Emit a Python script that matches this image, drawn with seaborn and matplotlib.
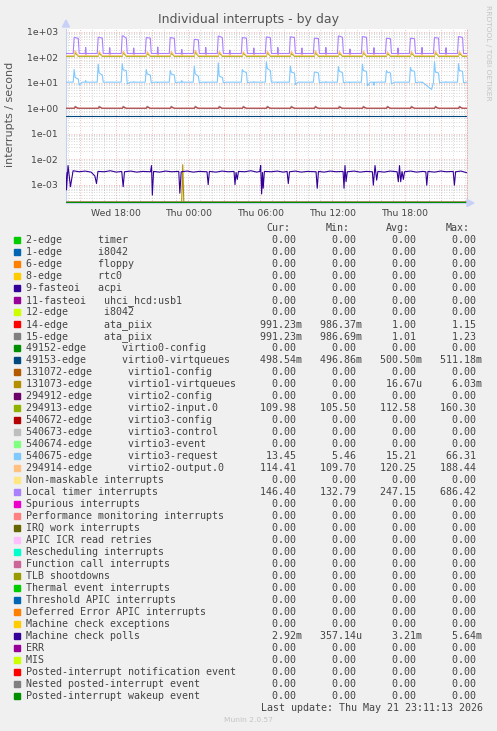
import numpy as np
import matplotlib
matplotlib.use("Agg")
import matplotlib.pyplot as plt
import seaborn as sns
from matplotlib.patches import Rectangle, Polygon
from matplotlib.ticker import LogLocator, FuncFormatter, MultipleLocator, NullFormatter

# time axis: hours since Wed 00:00
XMIN, XMAX = 13.81, 47.2
YMIN, YMAX = 1.9e-4, 1280

tick_hours = [18, 24, 30, 36, 42]
tick_labels = ["Wed 18:00", "Thu 00:00", "Thu 06:00", "Thu 12:00", "Thu 18:00"]

# start of each two-hourly burst (read from the purple pulses)
pulse_start = [14.45, 16.45, 18.45, 20.45, 22.45, 24.45, 26.45, 28.45, 30.45,
               32.45, 34.45, 36.45, 38.45, 40.45, 42.45, 44.45, 46.45]

# Local timer interrupts
timer_base = 140
timer_peak = [590, 600, 686, 585, 585, 500, 670, 585, 620, 625, 555, 675, 640, 555, 555, 585, 640]
timer_tail = [550, 560, 560, 560, 550, 480, 580, 560, 580, 590, 540, 600, 600, 530, 530, 560, 590]
timer_spike = [240, 235, 230, 250, 200, 240, 190, 230, 240, 230, 240, 210, 235, 230, 240, 235, 220]

# 540675-edge virtio3-request
blue_base = 10.5
blue_peak = [33, 53, 56, 33, 30, 45, 60, 33, 66, 45, 26, 43, 53, 30, 40, 66, 56]
blue_top = [16, 24, 32, 22, 22, 22, 18, 28, 36, 26, 26, 28, 30, 26, 30, 26, 30]
blue_tail = [14, 20, 30, 20, 20, 18, 16, 25, 30, 24, 24, 25, 28, 24, 28, 24, 28]
blue_after = [8, 10.5, 9, 10, 10, 10, 10, 10, 10.5, 8.5, 10, 10, 7.5, 9, 10, 10, 10]
blue_mid = [12, 10.5, 11, 10, 12, 10, 10.5, 11, 10, 10.5, 11, 10, 8, 10.5, 10, 11, 10]
blue_dip_hours = [44.25]
blue_dip_values = [5.46]

# 294914-edge virtio2-output.0 and 294913-edge virtio2-input.0
orange_base = 115
orange_peak = [180, 170, 175, 165, 170, 188, 170, 165, 175, 170, 180, 170, 175, 165, 170, 175, 170]
orange_spike = 150
green_base = 108
green_peak = [150, 145, 150, 140, 145, 160, 150, 145, 150, 140, 150, 145, 150, 140, 145, 150, 145]
green_spike = 130

# 14-edge / 15-edge ata_piix
red_base, red_peak = 0.99, 1.12
grey_base, grey_peak = 0.99, 1.2

# 49153-edge virtio0-virtqueues
vq0_value = 0.4985

# 131073-edge virtio1-virtqueues (single burst)
vq1_hours = [XMIN, 23.44, 23.53, 23.62, XMAX]
vq1_values = [0, 0, 6.03e-3, 0, 0]

# Machine check polls
mc_hours = [13.81, 13.85, 13.98, 14.18, 14.40, 14.9, 15.4, 15.9, 16.21, 16.35, 16.47, 17.0, 17.5,
            18.0, 18.45, 18.57, 18.68, 19.2, 19.7, 20.2, 20.85, 20.93, 21.0, 21.1, 21.6, 22.1,
            22.6, 23.2, 23.29, 23.4, 23.9, 24.4, 24.9, 25.55, 25.65, 25.75, 26.3, 26.8, 27.3,
            27.8, 27.88, 27.97, 28.07, 28.17, 28.7, 29.2, 29.7, 29.95, 30.02, 30.1, 30.17, 30.23,
            30.33, 30.9, 31.4, 31.9, 32.22, 32.32, 32.42, 32.9, 33.4, 33.9, 34.63, 34.73, 34.83,
            35.3, 35.8, 36.3, 36.88, 36.96, 37.04, 37.13, 37.23, 37.8, 38.3, 38.8, 39.32, 39.4,
            39.54, 39.68, 39.78, 40.3, 40.8, 41.38, 41.48, 41.58, 41.68, 41.79, 41.9, 42.0, 42.5,
            43.0, 43.5, 43.77, 43.85, 43.95, 44.5, 45.0, 45.5, 46.05, 46.15, 46.25, 46.7, 47.2]
mc_values = [3.0e-3, 6.2e-4, 5.6e-3, 8.3e-4, 3.5e-3, 3.2e-3, 3.4e-3, 3.1e-3, 2.2e-3, 1.1e-3, 3.3e-3, 3.2e-3, 3.5e-3,
             3.1e-3, 3.3e-3, 8.3e-4, 3.2e-3, 3.4e-3, 3.1e-3, 3.3e-3, 3.2e-3, 5.6e-3, 3.9e-4, 3.3e-3, 3.1e-3, 3.4e-3,
             3.2e-3, 3.3e-3, 4.6e-4, 3.2e-3, 3.4e-3, 3.1e-3, 3.3e-3, 3.2e-3, 1.0e-3, 3.3e-3, 3.1e-3, 3.4e-3, 3.2e-3,
             3.3e-3, 1.0e-3, 3.0e-3, 1.6e-3, 3.3e-3, 3.2e-3, 3.5e-3, 3.1e-3, 3.3e-3, 5.6e-3, 4.3e-4, 3.0e-3, 7.2e-4,
             3.3e-3, 3.2e-3, 3.4e-3, 3.1e-3, 3.3e-3, 1.1e-3, 3.2e-3, 3.4e-3, 3.1e-3, 3.3e-3, 3.2e-3, 7.2e-4, 3.3e-3,
             3.1e-3, 3.4e-3, 3.2e-3, 3.3e-3, 7.2e-4, 5.6e-3, 1.3e-3, 3.2e-3, 3.4e-3, 3.1e-3, 3.3e-3, 3.2e-3, 9.5e-4,
             5.6e-3, 1.5e-3, 3.3e-3, 3.1e-3, 3.4e-3, 3.2e-3, 1.3e-3, 5.6e-3, 1.3e-3, 3.3e-3, 1.6e-3, 3.2e-3, 3.4e-3,
             3.1e-3, 3.3e-3, 3.2e-3, 9.5e-4, 3.3e-3, 3.1e-3, 3.4e-3, 3.2e-3, 3.3e-3, 9.5e-4, 3.2e-3, 3.4e-3, 2.92e-3]

# legend
names = ["2-edge      timer", "1-edge      i8042", "6-edge      floppy", "8-edge      rtc0",
         "9-fasteoi   acpi", "11-fasteoi   uhci_hcd:usb1", "12-edge      i8042",
         "14-edge      ata_piix", "15-edge      ata_piix", "49152-edge      virtio0-config",
         "49153-edge      virtio0-virtqueues", "131072-edge      virtio1-config",
         "131073-edge      virtio1-virtqueues", "294912-edge      virtio2-config",
         "294913-edge      virtio2-input.0", "540672-edge      virtio3-config",
         "540673-edge      virtio3-control", "540674-edge      virtio3-event",
         "540675-edge      virtio3-request", "294914-edge      virtio2-output.0",
         "Non-maskable interrupts", "Local timer interrupts", "Spurious interrupts",
         "Performance monitoring interrupts", "IRQ work interrupts", "APIC ICR read retries",
         "Rescheduling interrupts", "Function call interrupts", "TLB shootdowns",
         "Thermal event interrupts", "Threshold APIC interrupts", "Deferred Error APIC interrupts",
         "Machine check exceptions", "Machine check polls", "ERR", "MIS",
         "Posted-interrupt notification event", "Nested posted-interrupt event",
         "Posted-interrupt wakeup event"]
colors = ["#00CC00", "#0066B3", "#FF8000", "#FFCC00", "#330099", "#990099", "#CCFF00", "#FF0000",
          "#808080", "#008F00", "#00487D", "#B35A00", "#B38F00", "#6B006B", "#8FB300", "#B30000",
          "#BEBEBE", "#80FF80", "#80C9FF", "#FFC080", "#FFE680", "#AA80FF", "#EE00CC", "#FF8080",
          "#666600", "#FFBFFF", "#00FFCC", "#CC6699", "#999900", "#00CC00", "#0066B3", "#FF8000",
          "#FFCC00", "#330099", "#990099", "#CCFF00", "#FF0000", "#808080", "#008F00"]
headers = ["Cur:", "Min:", "Avg:", "Max:"]
cur = [0] * 39
mins = [0] * 39
avg = [0] * 39
mx = [0] * 39
for i, c, mn, a, m in [(7, 0.99123, 0.98637, 1.00, 1.15), (8, 0.99123, 0.98669, 1.01, 1.23),
                       (10, 0.49854, 0.49686, 0.5005, 0.51118), (12, 0, 0, 16.67e-6, 6.03e-3),
                       (14, 109.98, 105.50, 112.58, 160.30), (18, 13.45, 5.46, 15.21, 66.31),
                       (19, 114.41, 109.70, 120.25, 188.44), (21, 146.40, 132.79, 247.15, 686.42),
                       (33, 2.92e-3, 357.14e-6, 3.21e-3, 5.64e-3)]:
    cur[i], mins[i], avg[i], mx[i] = c, mn, a, m

TEXT = "#444444"


def as_list(x):
    return np.broadcast_to(np.asarray(x, dtype=float), (len(pulse_start),))


def burst_line(base, peak, top=None, tail=None, after=None, mid=None):
    '''Polyline for a series that follows the two-hourly bursts'''
    top = as_list(base if top is None else top)
    tail = as_list(base if tail is None else tail)
    after = as_list(base if after is None else after)
    mid = as_list(base if mid is None else mid)
    peak = as_list(peak)
    t, v = [XMIN], [base]
    for i, t0 in enumerate(pulse_start):
        t += [t0 - 0.04, t0 + 0.04, t0 + 0.12, t0 + 0.38, t0 + 0.46, t0 + 0.7,
              t0 + 0.96, t0 + 1.0, t0 + 1.04]
        v += [base, peak[i], top[i], tail[i], after[i], base, base, mid[i], base]
    return t, v


def si(v):
    if v == 0:
        return "0.00 "
    mag = int(np.floor(np.log10(abs(v)) / 3) * 3)
    suf = {-6: "u", -3: "m", 0: " ", 3: "k"}[mag]
    return f"{v / 10.0 ** mag:.2f}{suf}"


series = {}
# small bumps that sit just inside the left edge of each timer pulse
series[7] = burst_line(red_base, red_base, red_peak)
series[8] = burst_line(grey_base, grey_base, grey_peak)
series[10] = ([XMIN, XMAX], [vq0_value, vq0_value])
series[12] = (vq1_hours, vq1_values)
series[14] = burst_line(green_base, green_base, green_peak, mid=green_spike)
bt, bv = burst_line(blue_base, blue_peak, blue_top, blue_tail, blue_after, blue_mid)
bt, bv = bt + blue_dip_hours, bv + blue_dip_values
order = np.argsort(bt)
series[18] = (list(np.array(bt)[order]), list(np.array(bv)[order]))
series[19] = burst_line(orange_base, orange_base, orange_peak, mid=orange_spike)
series[21] = burst_line(timer_base, timer_peak, timer_peak, timer_tail, mid=timer_spike)
series[33] = (mc_hours, mc_values)

sns.set_theme(style="white")
plt.rcParams["font.family"] = ["DejaVu Sans"]

fig = plt.figure(figsize=(4.97, 7.31), dpi=100, facecolor="#F0F0F0")
W, H = 497, 731
ax = fig.add_axes([66 / W, (H - 203) / H, 401 / W, 174 / H])
ax.set_facecolor("white")

# zero values sit on the bottom pixel row, as rrdtool clips them there
floor_value = YMIN * 10 ** (0.5 / 25.4)
for i in range(len(names)):
    t, v = series.get(i, ([XMIN, XMAX], [0, 0]))
    v = np.maximum(np.asarray(v, dtype=float), floor_value)
    sns.lineplot(x=t, y=v, color=colors[i], linewidth=0.8, sort=False, estimator=None,
                 ax=ax, zorder=3 + i * 0.01, alpha=0.75 if i == 8 else 1)

ax.set_yscale("log")
ax.set_xlim(XMIN, XMAX)
ax.set_ylim(YMIN, YMAX)

ax.set_xticks(np.arange(15, 46, 3))
ax.set_xticklabels([tick_labels[tick_hours.index(h)] if h in tick_hours else ""
                    for h in range(15, 46, 3)])
ax.xaxis.set_minor_locator(MultipleLocator(1))
ax.yaxis.set_major_locator(LogLocator(base=10))
ax.yaxis.set_minor_locator(LogLocator(base=10, subs=np.arange(2, 10)))
ax.yaxis.set_major_formatter(FuncFormatter(lambda v, p: f"{v:.0e}"))
ax.yaxis.set_minor_formatter(NullFormatter())

ax.grid(which="major", color="#E06060", alpha=0.55, linestyle=(0, (1, 2)), linewidth=0.6)
ax.grid(which="minor", color="#A0A0A0", alpha=0.55, linestyle=(0, (1, 2)), linewidth=0.6)
ax.tick_params(which="major", length=2, width=0.6, color="#E89090", labelsize=6.7,
               labelcolor=TEXT, pad=2)
ax.tick_params(axis="y", which="major", pad=4)
ax.tick_params(which="minor", length=0)
ax.set_xlabel("")
ax.set_ylabel("")
ax.spines["top"].set_visible(False)
ax.spines["right"].set_color("#E8A0A0")
ax.spines["right"].set_linestyle((0, (1, 2)))
ax.spines["right"].set_linewidth(0.6)
for s in ("left", "bottom"):
    ax.spines[s].set_color("#C8D0F0")
    ax.spines[s].set_linewidth(0.8)

# overlay in pixel coordinates for texts and legend
ov = fig.add_axes([0, 0, 1, 1], facecolor="none")
ov.set_xlim(0, W)
ov.set_ylim(H, 0)
ov.axis("off")

ov.add_patch(Polygon([[62.5, 27], [69.5, 27], [66, 20]], closed=True, color="#C8D0F8"))
ov.add_patch(Polygon([[467, 199.5], [467, 206.5], [474, 203]], closed=True, color="#C8D0F8"))

ov.text(248.5, 19.5, "Individual interrupts - by day", ha="center", va="center",
        fontsize=9, color="#555555")
ov.text(10.5, 114, "interrupts / second", rotation=90, ha="center", va="center",
        fontsize=8, color="#555555")
ov.text(488, 5, "RRDTOOL / TOBI OETIKER", rotation=270, ha="center", va="top",
        fontsize=5.4, color="#C4C4C4")

mono = dict(family="DejaVu Sans Mono", fontsize=7.18, color=TEXT, va="center")
for k, h in enumerate(headers):
    ov.text(290 + 60 * k, 228.3, h, ha="right", **mono)
for i, name in enumerate(names):
    y = 240.3 + 12 * i
    ov.add_patch(Rectangle((14, y - 3), 6, 6, color=colors[i]))
    row = name.ljust(36) + "".join(f"{si(x):>10}" for x in (cur[i], mins[i], avg[i], mx[i]))
    ov.text(26, y, row.rstrip(), ha="left", **mono)

last = "Last update: Thu May 21 23:11:13 2026"
ov.text(483, 707.7, last, ha="right", **mono)
ov.text(248, 720, "Munin 2.0.57", ha="center", va="center", fontsize=5.4, color="#C4C4C4")

fig.savefig("out.png", dpi=100, facecolor=fig.get_facecolor())
